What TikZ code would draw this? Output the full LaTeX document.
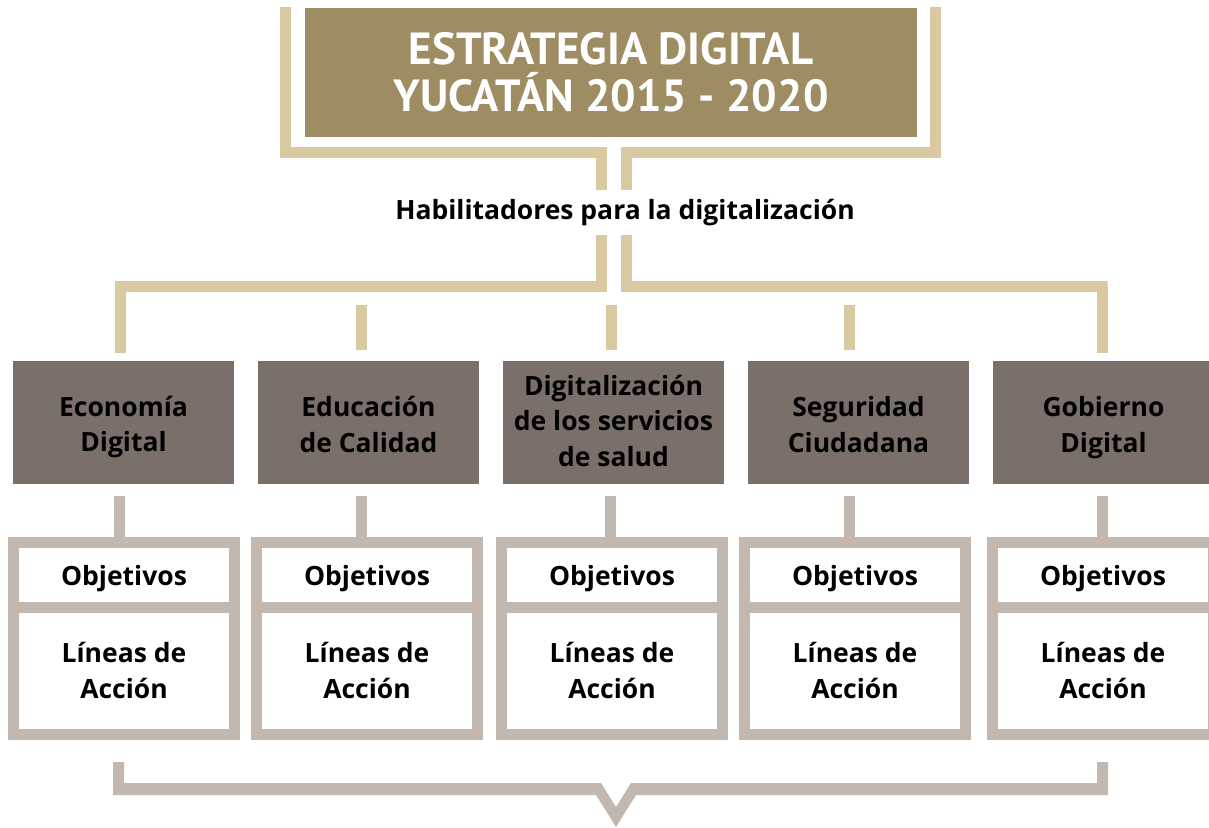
\documentclass[tikz,border=0pt]{standalone}
\usepackage{fontspec}
\setmainfont{Open Sans}
\newfontfamily\titlefont{PT Sans}
\definecolor{titlebg}{HTML}{9E8D63}
\definecolor{gold}{HTML}{D9C9A0}
\definecolor{catbg}{HTML}{7B6F6A}
\definecolor{framegray}{HTML}{C2B8B0}
\tikzset{
  goldline/.style={draw=gold, line width=11pt, line join=miter, line cap=butt},
  grayline/.style={draw=framegray, line width=11pt, line cap=butt},
  titlebox/.style={fill=titlebg, text=white, minimum width=612pt, minimum height=129pt, inner sep=0pt, align=center,
    font=\titlefont\bfseries\fontsize{45}{47}\selectfont},
  catbox/.style={fill=catbg, minimum width=221pt, minimum height=123pt, inner sep=0pt},
  cattext/.style={text=black, inner sep=0pt, align=center, font=\bfseries\fontsize{26.5}{35.5}\selectfont},
  objbox/.style={draw=framegray, fill=white, line width=11pt, minimum width=221pt, minimum height=64.5pt, inner sep=0pt},
  linbox/.style={draw=framegray, fill=white, line width=11pt, minimum width=221pt, minimum height=127.5pt, inner sep=0pt},
  boxtext/.style={inner sep=0pt, align=center, font=\bfseries\fontsize{26.5}{36}\selectfont},
  habtext/.style={inner sep=0pt, font=\bfseries\fontsize{26.5}{30}\selectfont}
}
\begin{document}
\begin{tikzpicture}[x=1pt,y=-1pt]
\useasboundingbox (0,0) rectangle (1209,827);
\clip (0,0) rectangle (1209,827);
% title
\node[titlebox] (title) at (611,72.5) {ESTRATEGIA DIGITAL\\YUCAT\'AN 2015 - 2020};
% top gold brackets
\coordinate (tl) at (285,7);
\coordinate (tr) at (935.5,7);
\coordinate (hl) at (601.5,190);
\coordinate (hr) at (626,190);
\draw[goldline] (tl) |- (596,152.5) -| (hl);
\draw[goldline] (tr) |- (631,152.5) -| (hr);
% habilitadores
\node[habtext] (hab) at (625,213) {Habilitadores para la digitalización};
% lower gold brackets
\coordinate (ll) at (601.5,235);
\coordinate (lr) at (626,235);
% category boxes
\node[catbox] (c1) at (123.5,422.5) {};
\node[catbox] (c2) at (368.5,422.5) {};
\node[catbox] (c3) at (613.5,422.5) {};
\node[catbox] (c4) at (858.5,422.5) {};
\node[catbox] (c5) at (1103.5,422.5) {};
\node[cattext] (t1) at ([yshift=-4.5pt]c1.center) {Economía\\Digital};
\node[cattext] (t2) at ([yshift=-2pt]c2.center) {Educación\\de Calidad};
\node[cattext] (t3) at ([yshift=2pt]c3.center) {Digitalización\\de los servicios\\de salud};
\node[cattext] (t4) at ([yshift=-2pt]c4.center) {Seguridad\\Ciudadana};
\node[cattext] (t5) at ([yshift=-5pt]c5.center) {Gobierno\\Digital};
\draw[goldline] (ll) |- (115,286.5) -- (120.5,286.5) -- (120.5,353);
\draw[goldline] (lr) |- (1107.5,286.5) -- (1102,286.5) -- (1102,353);
\draw[goldline] (361,305) -- (361,350);
\draw[goldline] (611,305) -- (611,350);
\draw[goldline] (849,305) -- (849,350);
% objective / action boxes
\foreach \i/\cx/\sx in {1/124/119, 2/367/361, 3/612/610, 4/855/849, 5/1103/1102.5}{
  \node[objbox] (o\i) at (\cx,574.75) {};
  \node[linbox] (l\i) at (\cx,670.75) {};
  \node[boxtext] (ot\i) at ([yshift=-4pt]o\i.center) {Objetivos};
  \node[boxtext] (lt\i) at (l\i.center) {Líneas de\\Acción};
  \draw[grayline] (\sx,496) -- (\sx,540);
}
% bottom bracket
\fill[framegray] (113,762) -- (124,762) -- (124,783) -- (601,783) -- (616,807) -- (631,783)
  -- (1097,783) -- (1097,762) -- (1108,762) -- (1108,795) -- (636,795) -- (616,827)
  -- (596,795) -- (113,795) -- cycle;
\end{tikzpicture}
\end{document}
